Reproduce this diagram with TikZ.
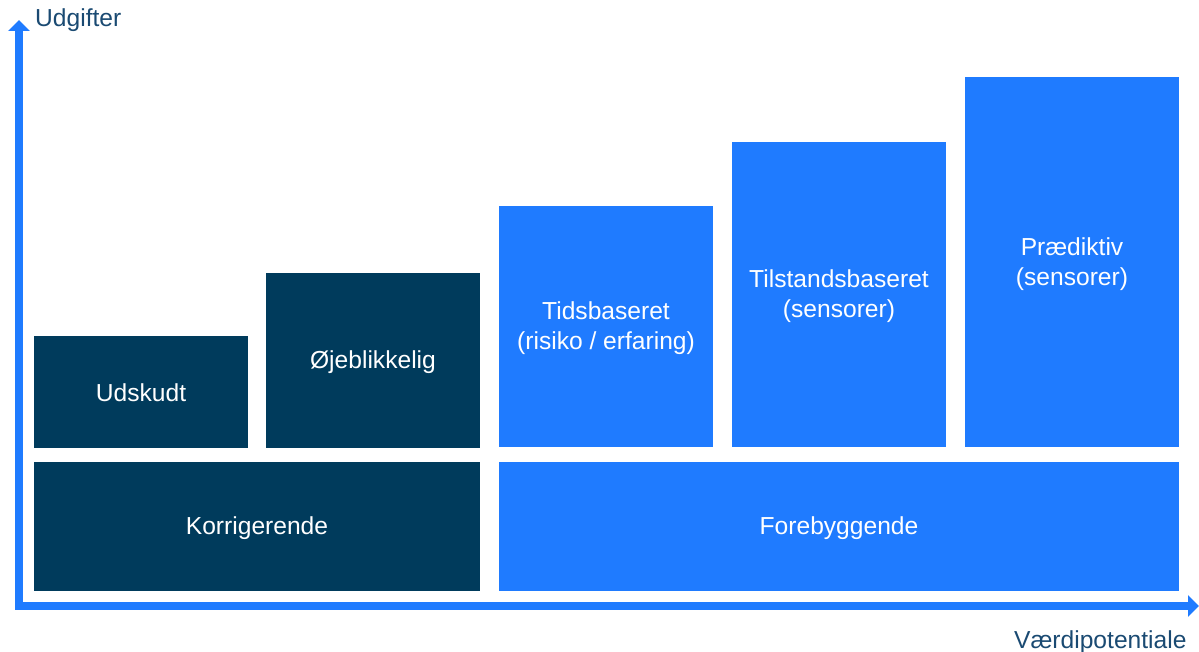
\documentclass[tikz,border=0pt]{standalone}
\usepackage{fontspec}
\setmainfont{Liberation Sans}
\usetikzlibrary{arrows.meta}
\definecolor{navy}{RGB}{0,59,92}
\definecolor{brightblue}{RGB}{31,123,255}
\definecolor{axistext}{RGB}{26,74,114}
\newcommand\mystrut{\rule[-4pt]{0pt}{26pt}}
\tikzset{
  x=1pt, y=-1pt,
  box/.style={anchor=north west, inner sep=0pt, outer sep=0pt, text=white,
    align=center, font=\fontsize{24.6}{30}\selectfont},
  dark/.style={box, fill=navy},
  light/.style={box, fill=brightblue},
  axis/.style={draw=brightblue, line width=8pt,
    {Triangle[width=21pt,length=11pt]}-{Triangle[width=21pt,length=11pt]}},
  axislabel/.style={anchor=base west, inner sep=0pt, text=axistext, font=\fontsize{24.6}{30}\selectfont}
}
\begin{document}
\begin{tikzpicture}
\useasboundingbox (0,0) rectangle (1199,652);
\coordinate (ytop) at (19,20);
\coordinate (origin) at (19,606);
\coordinate (xend) at (1199,606);
\draw[axis] (ytop) -- (origin) -- (xend);
\node[axislabel] (udg) at (35,27) {Udgifter};
\node[axislabel] (vaerdi) at (1014,648) {Værdipotentiale};

\node[dark, minimum width=214pt, minimum height=112pt] (udskudt) at (34,336) {Udskudt\mystrut};
\node[dark, minimum width=214pt, minimum height=175pt] (ojeblik) at (266,273) {Øjeblikkelig\mystrut};
\node[dark, minimum width=446pt, minimum height=129pt] (korr) at (34,462) {Korrigerende\mystrut};

\node[light, minimum width=214pt, minimum height=241pt] (tids) at (499,206) {Tidsbaseret\mystrut\\(risiko / erfaring)\mystrut};
\node[light, minimum width=214pt, minimum height=305pt] (tilst) at (732,142) {Tilstandsbaseret\mystrut\\(sensorer)\mystrut};
\node[light, minimum width=214pt, minimum height=370pt] (praed) at (965,77) {Prædiktiv\mystrut\\(sensorer)\mystrut};
\node[light, minimum width=680pt, minimum height=129pt] (fore) at (499,462) {Forebyggende\mystrut};
\end{tikzpicture}
\end{document}
